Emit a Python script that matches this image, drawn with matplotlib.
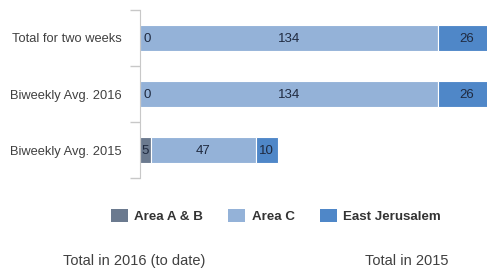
import numpy as np
import matplotlib.pyplot as plt
from matplotlib.patches import Patch

plt.rcParams['font.family'] = ['Liberation Sans', 'DejaVu Sans']

categories = ['Biweekly Avg. 2015', 'Biweekly Avg. 2016', 'Total for two weeks']
area_ab = [5, 0, 0]
area_c = [47, 134, 134]
east_jerusalem = [10, 26, 26]

series = [
    ('Area A & B', area_ab, '#6b7a8f'),
    ('Area C', area_c, '#94b2d8'),
    ('East Jerusalem', east_jerusalem, '#4f87c8'),
]

fig = plt.figure(figsize=(4.87, 2.69), dpi=100)
ax = fig.add_axes([140 / 487, 1 - 178 / 269, 1 - 140 / 487, 168 / 269])

y = np.arange(len(categories))
left = np.zeros(len(categories))
for name, values, color in series:
    values = np.array(values)
    ax.barh(y, values, left=left, height=0.46, color=color,
            edgecolor='white', linewidth=0.8, label=name)
    for i, v in enumerate(values):
        if v == 0:
            ax.text(left[i] + 1.5, y[i], '0', ha='left', va='center_baseline',
                    fontsize=9.5, color='#1f2a40')
        else:
            ax.text(left[i] + v / 2, y[i], str(v), ha='center',
                    va='center_baseline', fontsize=9.5, color='#1f2a40')
    left += values

ax.set_xlim(0, 156)
ax.set_ylim(-0.5, 2.5)
ax.set_yticks([-0.5, 0.5, 1.5, 2.5], minor=False)
ax.set_yticklabels([])
ax.set_yticks(y, minor=True)
ax.set_yticklabels(categories, minor=True)
ax.tick_params(axis='y', which='major', length=7, color='#c8c8c8', width=1)
ax.tick_params(axis='y', which='minor', length=0, pad=13, labelsize=9.3,
               labelcolor='#404040')
ax.set_xticks([])
for side in ['top', 'right', 'bottom']:
    ax.spines[side].set_visible(False)
ax.spines['left'].set_color('#c8c8c8')

handles = [Patch(facecolor=c, label=n) for n, _, c in series]
fig.legend(handles=handles, loc='center', bbox_to_anchor=(276 / 487, 1 - 216 / 269),
           ncol=3, frameon=False, handlelength=1.25, handleheight=1.1,
           columnspacing=1.9, handletextpad=0.5,
           prop={'weight': 'bold', 'size': 9.6})
for t in fig.legends[0].get_texts():
    t.set_color('#333333')

fig.text(134 / 487, 1 - 261 / 269, 'Total in 2016 (to date)', ha='center',
         va='center', fontsize=10.5, color='#404040')
fig.text(407 / 487, 1 - 261 / 269, 'Total in 2015', ha='center',
         va='center', fontsize=10.5, color='#404040')

fig.savefig('out.png', dpi=100)
